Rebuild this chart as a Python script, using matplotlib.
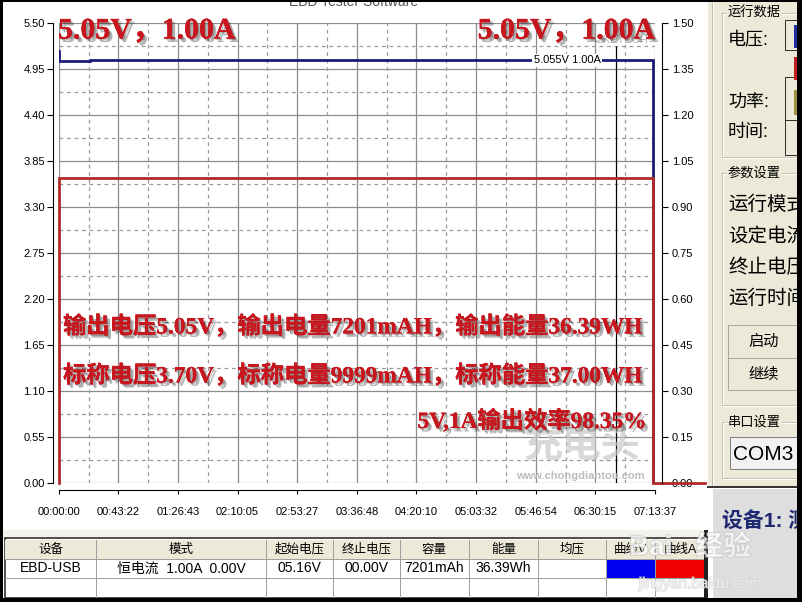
import numpy as np
import matplotlib.pyplot as plt
from matplotlib import patheffects as pe
from matplotlib.patches import Rectangle
from matplotlib.lines import Line2D
from matplotlib.ticker import FixedLocator, FormatStrFormatter

plt.rcParams['font.family'] = ['Liberation Sans', 'Noto Sans CJK SC']

W, H = 802, 602

# ---- values ----
time_labels = ["00:00:00", "00:43:22", "01:26:43", "02:10:05", "02:53:27", "03:36:48",
               "04:20:10", "05:03:32", "05:46:54", "06:30:15", "07:13:37"]
volt_ticks = [0.00, 0.55, 1.10, 1.65, 2.20, 2.75, 3.30, 3.85, 4.40, 4.95, 5.50]
amp_ticks = [0.00, 0.15, 0.30, 0.45, 0.60, 0.75, 0.90, 1.05, 1.20, 1.35, 1.50]

# voltage curve (s, V)
volt_t = [0, 0, 1370, 1370, 25930, 25930]
volt_v = [5.16, 5.05, 5.05, 5.06, 5.06, 0.00]

# current curve (s, A) - the trace runs on past the right axis
curr_t = [0, 0, 25930, 25930, 28200]
curr_a = [0.00, 0.995, 0.995, 0.00, 0.00]

cursor_t = 24316
cursor_v = 5.22
label_t = 22180
cursor_label = "5.055V 1.00A"

head_text = "5.05V，1.00A"
summary_lines = ["输出电压5.05V，输出电量7201mAH，输出能量36.39WH",
                 "标称电压3.70V，标称电量9999mAH，标称能量37.00WH",
                 "5V,1A输出效率98.35%"]

table_cols = ["设备", "模式", "起始电压", "终止电压", "容量", "能量", "均压", "曲线V", "曲线A"]
table_row = ["EBD-USB", "恒电流  1.00A  0.00V", "05.16V", "00.00V", "7201mAh", "36.39Wh", "", "", ""]


def to_sec(s):
    h, m, sec = map(int, s.split(":"))
    return h * 3600 + m * 60 + sec


tick_secs = [to_sec(s) for s in time_labels]
minor_x = np.diff(tick_secs) / 2 + np.array(tick_secs[:-1])
minor_y = np.diff(volt_ticks) / 2 + np.array(volt_ticks[:-1])

fig = plt.figure(figsize=(W / 100, H / 100), dpi=100, facecolor='white')


# helpers in screen pixels (origin top-left)
def fx(x):
    return x / W


def fy(y):
    return 1 - y / H


def box(x0, y0, x1, y1, fc='none', ec='none', lw=0.72, z=-5):
    fig.patches.append(Rectangle((fx(x0), fy(y1)), (x1 - x0) / W, (y1 - y0) / H,
                                 transform=fig.transFigure, facecolor=fc,
                                 edgecolor=ec, linewidth=lw, zorder=z))


def line(x0, y0, x1, y1, c='#a0a0a0', lw=0.72, z=-4):
    fig.lines.append(Line2D([fx(x0), fx(x1)], [fy(y0), fy(y1)],
                            transform=fig.transFigure, color=c, lw=lw, zorder=z))


def txt(x, y, s, **kw):
    kw.setdefault('va', 'center')
    return fig.text(fx(x), fy(y), s, **kw)


def groupbox(x0, y0, x1, y1, label):
    box(x0 + 1, y0 + 1, x1 + 1, y1 + 1, ec='white')
    box(x0, y0, x1, y1, ec='#c5c2b2')
    txt(x0 + 6, y0, label, fontsize=9.5, color='black',
        bbox=dict(fc='#ECE9D8', ec='none', pad=1))


# ---- panels ----
box(3, 3, 708, 530, fc='white')
box(3, 530, 708, 538, fc='#f3f2ec')
box(708, 0, 802, 487, fc='#ECE9D8')
line(712, 3, 712, 487, c='#bdb9a8')
line(713, 3, 713, 487, c='white')

# ---- chart ----
ax = fig.add_axes([fx(58.7), fy(483), (655 - 58.7) / W, 460 / H])
ax.set_facecolor('white')
ax.set_xlim(0, tick_secs[-1])
ax.set_ylim(volt_ticks[0], volt_ticks[-1])
ax.xaxis.set_major_locator(FixedLocator(tick_secs))
ax.set_xticklabels(time_labels)
ax.yaxis.set_major_locator(FixedLocator(volt_ticks))
ax.yaxis.set_major_formatter(FormatStrFormatter('%.2f'))
ax.grid(which='major', color='#8c8c8c', lw=0.9, ls='-', zorder=0.5)
# dashed half-step grid
for v in minor_y:
    ax.axhline(v, color='#9a9a9a', lw=0.9, ls=(0, (3, 3)), zorder=0.6)
for t in minor_x:
    ax.axvline(t, color='#9a9a9a', lw=0.9, ls=(0, (3, 3)), zorder=0.6)
ax.set_axisbelow(True)
ax.tick_params(axis='y', which='major', length=4, width=0.8, pad=2, labelsize=8)
ax.tick_params(axis='x', which='major', length=3, width=0.8, pad=9, labelsize=8)
for side in ['top', 'right']:
    ax.spines[side].set_visible(False)
ax.spines['left'].set_position(('outward', 4))
ax.spines['bottom'].set_position(('outward', 5))
for side in ['left', 'bottom']:
    ax.spines[side].set_linewidth(0.8)

ax.plot(volt_t, volt_v, color='#1c1c78', lw=2, solid_joinstyle='miter', zorder=3)
ax.vlines(cursor_t, 0, cursor_v, color='black', lw=0.9, zorder=2.5)
ax.text(label_t, 5.055, cursor_label, fontsize=8, ha='center', va='center', zorder=4,
        bbox=dict(fc='white', ec='none', pad=1))

ax2 = ax.twinx()
ax2.set_ylim(amp_ticks[0], amp_ticks[-1])
ax2.yaxis.set_major_locator(FixedLocator(amp_ticks))
ax2.yaxis.set_major_formatter(FormatStrFormatter('%.2f'))
ax2.tick_params(axis='y', length=4, width=0.8, pad=3, labelsize=8)
for side in ['top', 'left', 'bottom']:
    ax2.spines[side].set_visible(False)
ax2.spines['right'].set_position(('outward', 5))
ax2.spines['right'].set_linewidth(0.8)
ax2.plot(curr_t, curr_a, color='#b02a2a', lw=2, solid_joinstyle='miter', clip_on=False)

# faint window title and watermarks
txt(354, 6, "EBD Tester Software", fontsize=10, color='#555555', ha='center', va='baseline')
txt(597, 40, "ZKETECH", fontsize=8, color='#b4b4b4', ha='left')
txt(582, 446, "充电头", fontsize=28, weight='bold', color='#c8c8c8', ha='center', alpha=0.7)
txt(580, 476, "www.chongdiantou.com", fontsize=8, weight='bold', color='#bcbcbc', ha='center')

# red overlay captions
red = '#c8161e'
fx_shadow = [pe.withSimplePatchShadow(offset=(2.5, -2.5), shadow_rgbFace='#303030', alpha=0.35),
             pe.withSimplePatchShadow(offset=(1.2, -1.2), shadow_rgbFace='#505050', alpha=0.35),
             pe.Normal()]
cap_font = ['Liberation Serif', 'Noto Sans CJK SC']
txt(58, 31, head_text, fontsize=21.5, color=red, family=cap_font, weight='bold',
    ha='left', path_effects=fx_shadow)
txt(655, 31, head_text, fontsize=21.5, color=red, family=cap_font, weight='bold',
    ha='right', path_effects=fx_shadow)
txt(63, 327, summary_lines[0], fontsize=16.8, color=red, family=cap_font, weight='bold',
    ha='left', path_effects=fx_shadow)
txt(63, 376, summary_lines[1], fontsize=16.8, color=red, family=cap_font, weight='bold',
    ha='left', path_effects=fx_shadow)
txt(647, 421, summary_lines[2], fontsize=16.8, color=red, family=cap_font, weight='bold',
    ha='right', path_effects=fx_shadow)

# ---- bottom table ----
col_x = [5, 96, 266, 333, 400, 469, 538, 606, 655, 705]
box(5, 538, 706, 598, fc='white', ec='#303030', lw=1.2)
box(5, 540, 705, 559, fc='#ECE9D8')
box(606, 559, 655, 578, fc='#0000f0')
box(655, 559, 705, 578, fc='#f00000')
for x in col_x[1:-1]:
    line(x, 540, x, 597)
for y in [559, 578]:
    line(5, y, 705, y)
for i, (h, v) in enumerate(zip(table_cols, table_row)):
    cx = (col_x[i] + col_x[i + 1]) / 2
    txt(cx, 549.5, h, fontsize=9, ha='center')
    if v:
        txt(cx, 568.5, v, fontsize=10, ha='center')
box(704, 530, 708, 598, fc='#202020', z=-3)

# ---- right control panel ----
groupbox(722, 13, 805, 157, "运行数据")
txt(728, 41, "电压:", fontsize=13)
txt(728, 103, "功率:", fontsize=13)
txt(728, 133, "时间:", fontsize=13)
box(785, 20, 810, 50, ec='#303030')
box(785, 77, 810, 120, ec='#303030')
box(785, 120, 810, 155, ec='#303030')
box(794, 25, 798, 48, fc='#2030a0', z=-3)
box(794, 57, 798, 80, fc='#c02020', z=-3)
box(794, 90, 798, 115, fc='#a09040', z=-3)

groupbox(722, 173, 805, 405, "参数设置")
for y, s in zip([205, 237, 268, 299], ["运行模式", "设定电流", "终止电压", "运行时间"]):
    txt(728, y, s, fontsize=14)
box(728, 325, 805, 358, fc='#ECE9D8', ec='#a8a8a0')
box(728, 358, 805, 390, fc='#ECE9D8', ec='#a8a8a0')
txt(764, 342, "启动", fontsize=11, ha='center')
txt(764, 375, "继续", fontsize=11, ha='center')

groupbox(722, 422, 805, 478, "串口设置")
box(730, 437, 805, 469, fc='#f2f2f2', ec='#808080')
txt(733, 454, "COM3", fontsize=15, ha='left')

line(708, 487, 802, 487, c='#303030', lw=1.4)
box(713, 489, 802, 602, fc='#dedede')
txt(722, 522, "设备1: 测", fontsize=15, weight='bold', color='#1e2870', ha='left')

# baidu watermark
txt(690, 548, "Bai   经验", fontsize=20, weight='bold', color='white', ha='center', alpha=0.55,
    path_effects=[pe.withStroke(linewidth=1.2, foreground='#bbbbbb')])
txt(700, 584, "jingyan.baidu.com", fontsize=11, color='white', ha='center', alpha=0.6,
    path_effects=[pe.withStroke(linewidth=1, foreground='#c8c8c8')])

# outer black frame
box(0, 0, 3, 602, fc='black', z=10)
box(0, 0, 802, 2, fc='black', z=10)
box(797, 0, 802, 602, fc='black', z=10)
box(0, 598, 802, 602, fc='black', z=10)

fig.savefig("out.png", dpi=100)
